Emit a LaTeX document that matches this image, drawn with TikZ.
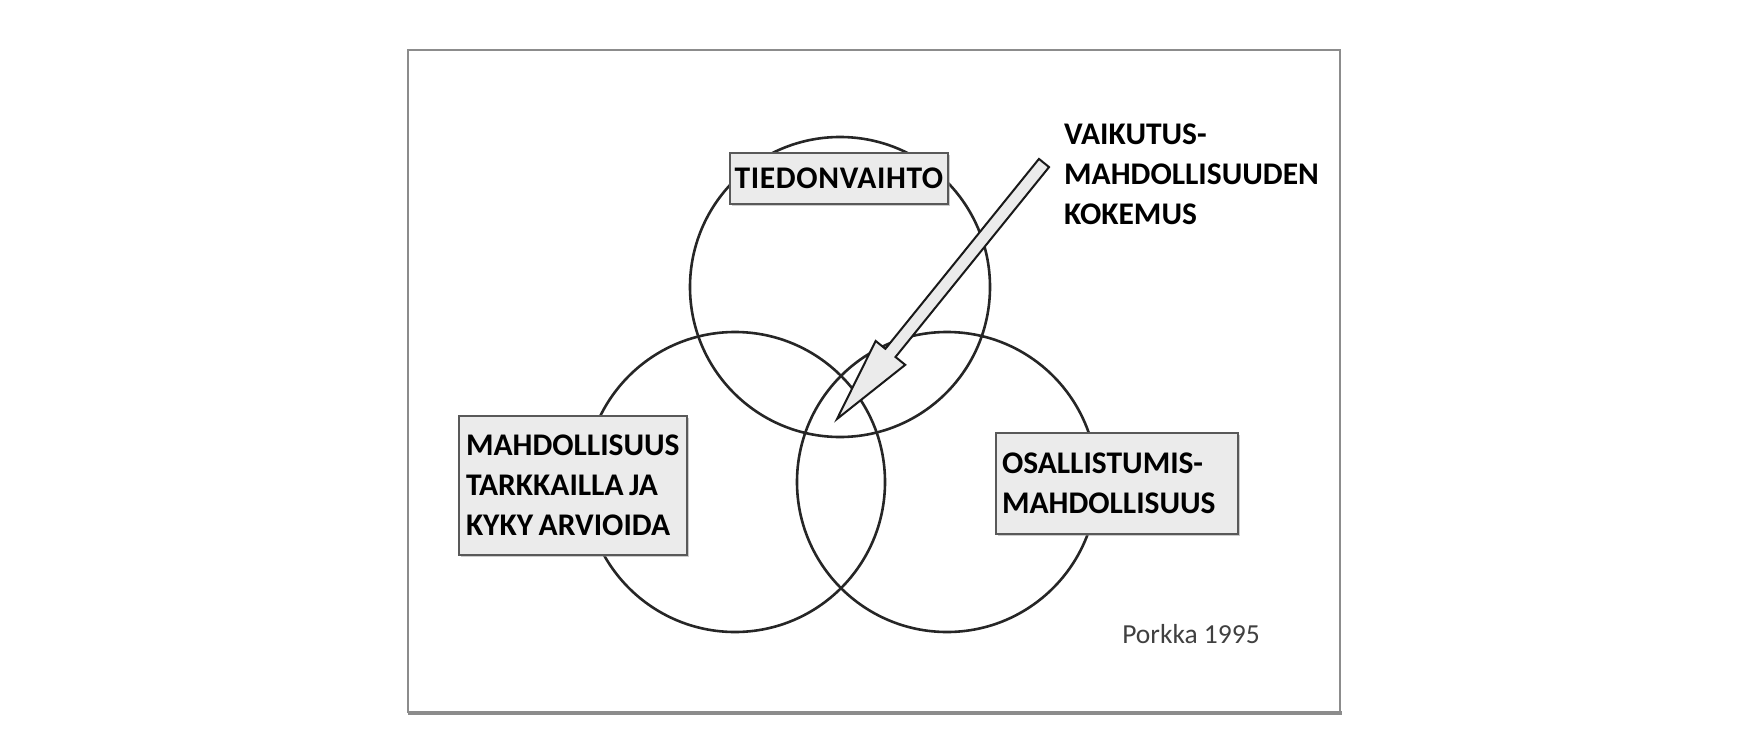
\documentclass[tikz,border=0pt]{standalone}
\usepackage{fontspec}
\newfontfamily\calib{Carlito}
\usetikzlibrary{calc,shadows}

\begin{document}
\begin{tikzpicture}[x=1pt,y=-1pt,
    ring/.style={circle,draw=black!85,line width=2.6pt,minimum size=300pt,inner sep=0pt},
    label box/.style={draw=black!65,fill=black!8,line width=1.8pt,inner ysep=4pt,
        font=\calib\bfseries\fontsize{31.5}{40}\selectfont,
        execute at begin node={\spaceskip=5.5pt\relax},
        drop shadow={shadow xshift=2pt,shadow yshift=-2pt,fill=black!40}},
    plain text/.style={inner sep=0pt,align=left,font=\calib\bfseries\fontsize{31.5}{40}\selectfont},
    pointer/.style={draw=black!90,fill=black!8,line width=2pt,line join=miter}]
                \useasboundingbox (0,0) rectangle (1754,752);
                \draw[black!45,line width=2pt] (408,50) rectangle (1340,712);
                \draw[black!45,line width=4pt] (408,713) -- (1342,713);

                % the three rings
                \node[ring] (top) at (840,287) {};
                \node[ring] (lft) at (735,482) {};
                \node[ring] (rgt) at (947,482) {};

                % labels
                \node[label box,minimum width=218pt,minimum height=51pt,align=center] (info) at (839,178.5)
                    {\addfontfeatures{LetterSpace=2}TIEDONVAIHTO};
                \node[label box,text width=214pt,inner xsep=7pt,minimum height=139pt,align=left] (watch) at (573,485.5)
                    {MAHDOLLISUUS\\TARKKAILLA JA\\KYKY ARVIOIDA};
                \node[label box,text width=230pt,inner xsep=6pt,minimum height=101pt,align=left] (join) at (1117,483.5)
                    {OSALLISTUMIS-\\MAHDOLLISUUS};
                \node[plain text,anchor=north west] (feel) at (1064,124)
                    {VAIKUTUS-\\MAHDOLLISUUDEN\\KOKEMUS};
                \node[inner sep=0pt,font=\calib\fontsize{27.5}{32}\selectfont,text=black!75] (src) at (1191,634) {Porkka 1995};

                % block arrow into the middle
                \coordinate (tail) at (1044,163);
                \coordinate (tip) at (837,419);
                \coordinate (neck) at ($(tip)!85pt!(tail)$);
                \filldraw[pointer] ($(tail)!6.5pt!90:(tip)$) -- ($(neck)!6.5pt!90:(tip)$)
                    -- ($(neck)!19pt!90:(tip)$) -- (tip) -- ($(neck)!19pt!-90:(tip)$)
                    -- ($(neck)!6.5pt!-90:(tip)$) -- ($(tail)!6.5pt!-90:(tip)$) -- cycle;

            \end{tikzpicture}
\end{document}
